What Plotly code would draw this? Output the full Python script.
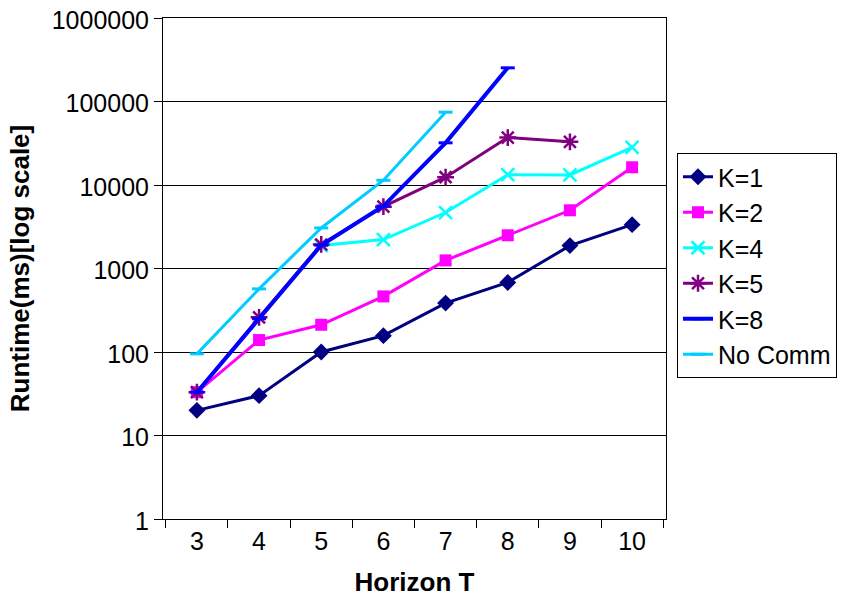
import plotly.graph_objects as go

horizons = ["3", "4", "5", "6", "7", "8", "9", "10"]
k1 = [20, 30, 100, 157, 385, 680, 1880, 3350]
k2 = [33, 139, 212, 463, 1250, 2500, 4980, 16300]
k4 = [None, None, 1880, 2220, 4680, 13300, 13200, 28200]
k5 = [33, 260, 1940, 5500, 12400, 37000, 32900, None]
k8 = [33, 250, 1900, 5600, 32000, 253000, None, None]
nocomm = [95, 570, 3060, 11400, 74500, None, None, None]

series = [
    ("K=1", k1, "#000080", dict(symbol="diamond", size=13), 3),
    ("K=2", k2, "#FF00FF", dict(symbol="square", size=12), 3),
    ("K=4", k4, "#00FFFF", dict(symbol="x-thin-open", size=13, line=dict(width=2.5, color="#00FFFF")), 3),
    ("K=5", k5, "#800080", dict(symbol="asterisk-open", size=14, line=dict(width=2.5, color="#800080")), 3),
    ("K=8", k8, "#0000FF", dict(symbol="line-ew-open", size=10, line=dict(width=3, color="#0000FF")), 4),
    ("No Comm", nocomm, "#00CCFF", dict(symbol="line-ew-open", size=10, line=dict(width=3, color="#00CCFF")), 3),
]

fig = go.Figure()
for i, (name, vals, color, marker, lw) in enumerate(series):
    marker = dict(marker)
    marker["color"] = color
    fig.add_trace(go.Scatter(
        x=horizons, y=vals, name=name, mode="lines+markers",
        line=dict(color=color, width=lw), marker=marker,
        legendgroup=f"g{i}", connectgaps=False,
    ))

W, H = 848, 598
L, T = 163, 18
R = W - 666
B = H - 519
PW, PH = W - L - R, H - T - B

fig.update_layout(
    width=W, height=H,
    margin=dict(l=L, r=R, t=T, b=B, autoexpand=False),
    paper_bgcolor="white", plot_bgcolor="white",
    font=dict(family="Liberation Sans, Arial, sans-serif", color="black", size=25),
    showlegend=True,
    legend=dict(
        x=(677 - L) / PW, xanchor="left",
        y=1 - (153 - T) / PH, yanchor="top",
        bordercolor="black", borderwidth=1, bgcolor="white",
        font=dict(size=25), tracegroupgap=0,
    ),
)

fig.update_xaxes(
    type="category", tickson="boundaries", ticks="outside", ticklen=8,
    tickcolor="black", showline=True, linecolor="black", linewidth=1, mirror=True,
    showgrid=False, tickfont=dict(size=25), ticklabeloverflow="allow",
    title=dict(text="<b>Horizon T</b>", font=dict(size=26), standoff=18),
)
fig.update_yaxes(
    type="log", range=[0, 6],
    tickvals=[1, 10, 100, 1000, 10000, 100000, 1000000],
    ticktext=["1", "10", "100", "1000", "10000", "100000", "1000000"],
    ticks="outside", ticklen=8, tickcolor="black",
    showline=True, linecolor="black", linewidth=1, mirror=True,
    showgrid=True, gridcolor="black", gridwidth=1,
    tickfont=dict(size=25), ticklabeloverflow="allow", ticklabelshift=2,
    title=dict(text="<b>Runtime(ms)[log scale]</b>", font=dict(size=26), standoff=14),
)

fig.write_html(
    "out.html",
    config={"displayModeBar": False, "staticPlot": True},
    post_script="document.body.style.margin='0';document.body.style.overflow='hidden';",
)
